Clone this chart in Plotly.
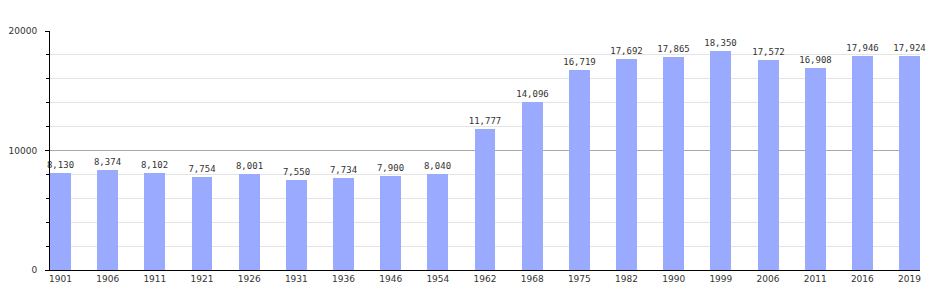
import plotly.graph_objects as go

years = ["1901", "1906", "1911", "1921", "1926", "1931", "1936", "1946", "1954", "1962",
         "1968", "1975", "1982", "1990", "1999", "2006", "2011", "2016", "2019"]
population = [8130, 8374, 8102, 7754, 8001, 7550, 7734, 7900, 8040, 11777,
              14096, 16719, 17692, 17865, 18350, 17572, 16908, 17946, 17924]
y_ticks = [0, 10000, 20000]

xs = list(range(len(years)))
bw = 0.445
labels = [f"{v:,}" for v in population]

fig = go.Figure(go.Bar(
    x=xs, y=population, width=bw,
    marker=dict(color="#99aaff", line=dict(width=0)),
    text=labels, textposition="outside", cliponaxis=False,
    constraintext="none",
    textfont=dict(family="DejaVu Sans Mono", size=9, color="#333333"),
    hoverinfo="skip",
))

fig.update_layout(
    width=950, height=300,
    margin=dict(l=50, r=30, t=31, b=30),
    paper_bgcolor="white", plot_bgcolor="white",
    showlegend=False,
    font=dict(family="DejaVu Sans", size=9, color="#333333"),
    bargap=0,
    uniformtext=dict(minsize=9, mode="show"),
)
fig.update_xaxes(
    range=[-bw / 2, len(years) - 1 + bw / 2],
    tickmode="array", tickvals=xs, ticktext=years,
    showgrid=False, zeroline=False,
    showline=True, linecolor="black", linewidth=1,
    ticks="", ticklabelstandoff=0, automargin=False,
    tickfont=dict(size=9, color="#333333"),
)
fig.update_yaxes(
    range=[0, 20000],
    tickmode="array", tickvals=y_ticks, ticktext=[str(t) for t in y_ticks],
    showgrid=True, gridcolor="#aaaaaa", gridwidth=1,
    zeroline=False, automargin=False,
    showline=True, linecolor="black", linewidth=1,
    ticks="outside", ticklen=4, tickcolor="black",
    ticklabelstandoff=6,
    minor=dict(dtick=2000, tick0=0, showgrid=True, gridcolor="#e4e4e4",
               ticks="outside", ticklen=3, tickcolor="black"),
    tickfont=dict(size=9, color="#333333"),
)

fig.write_html("out.html")
